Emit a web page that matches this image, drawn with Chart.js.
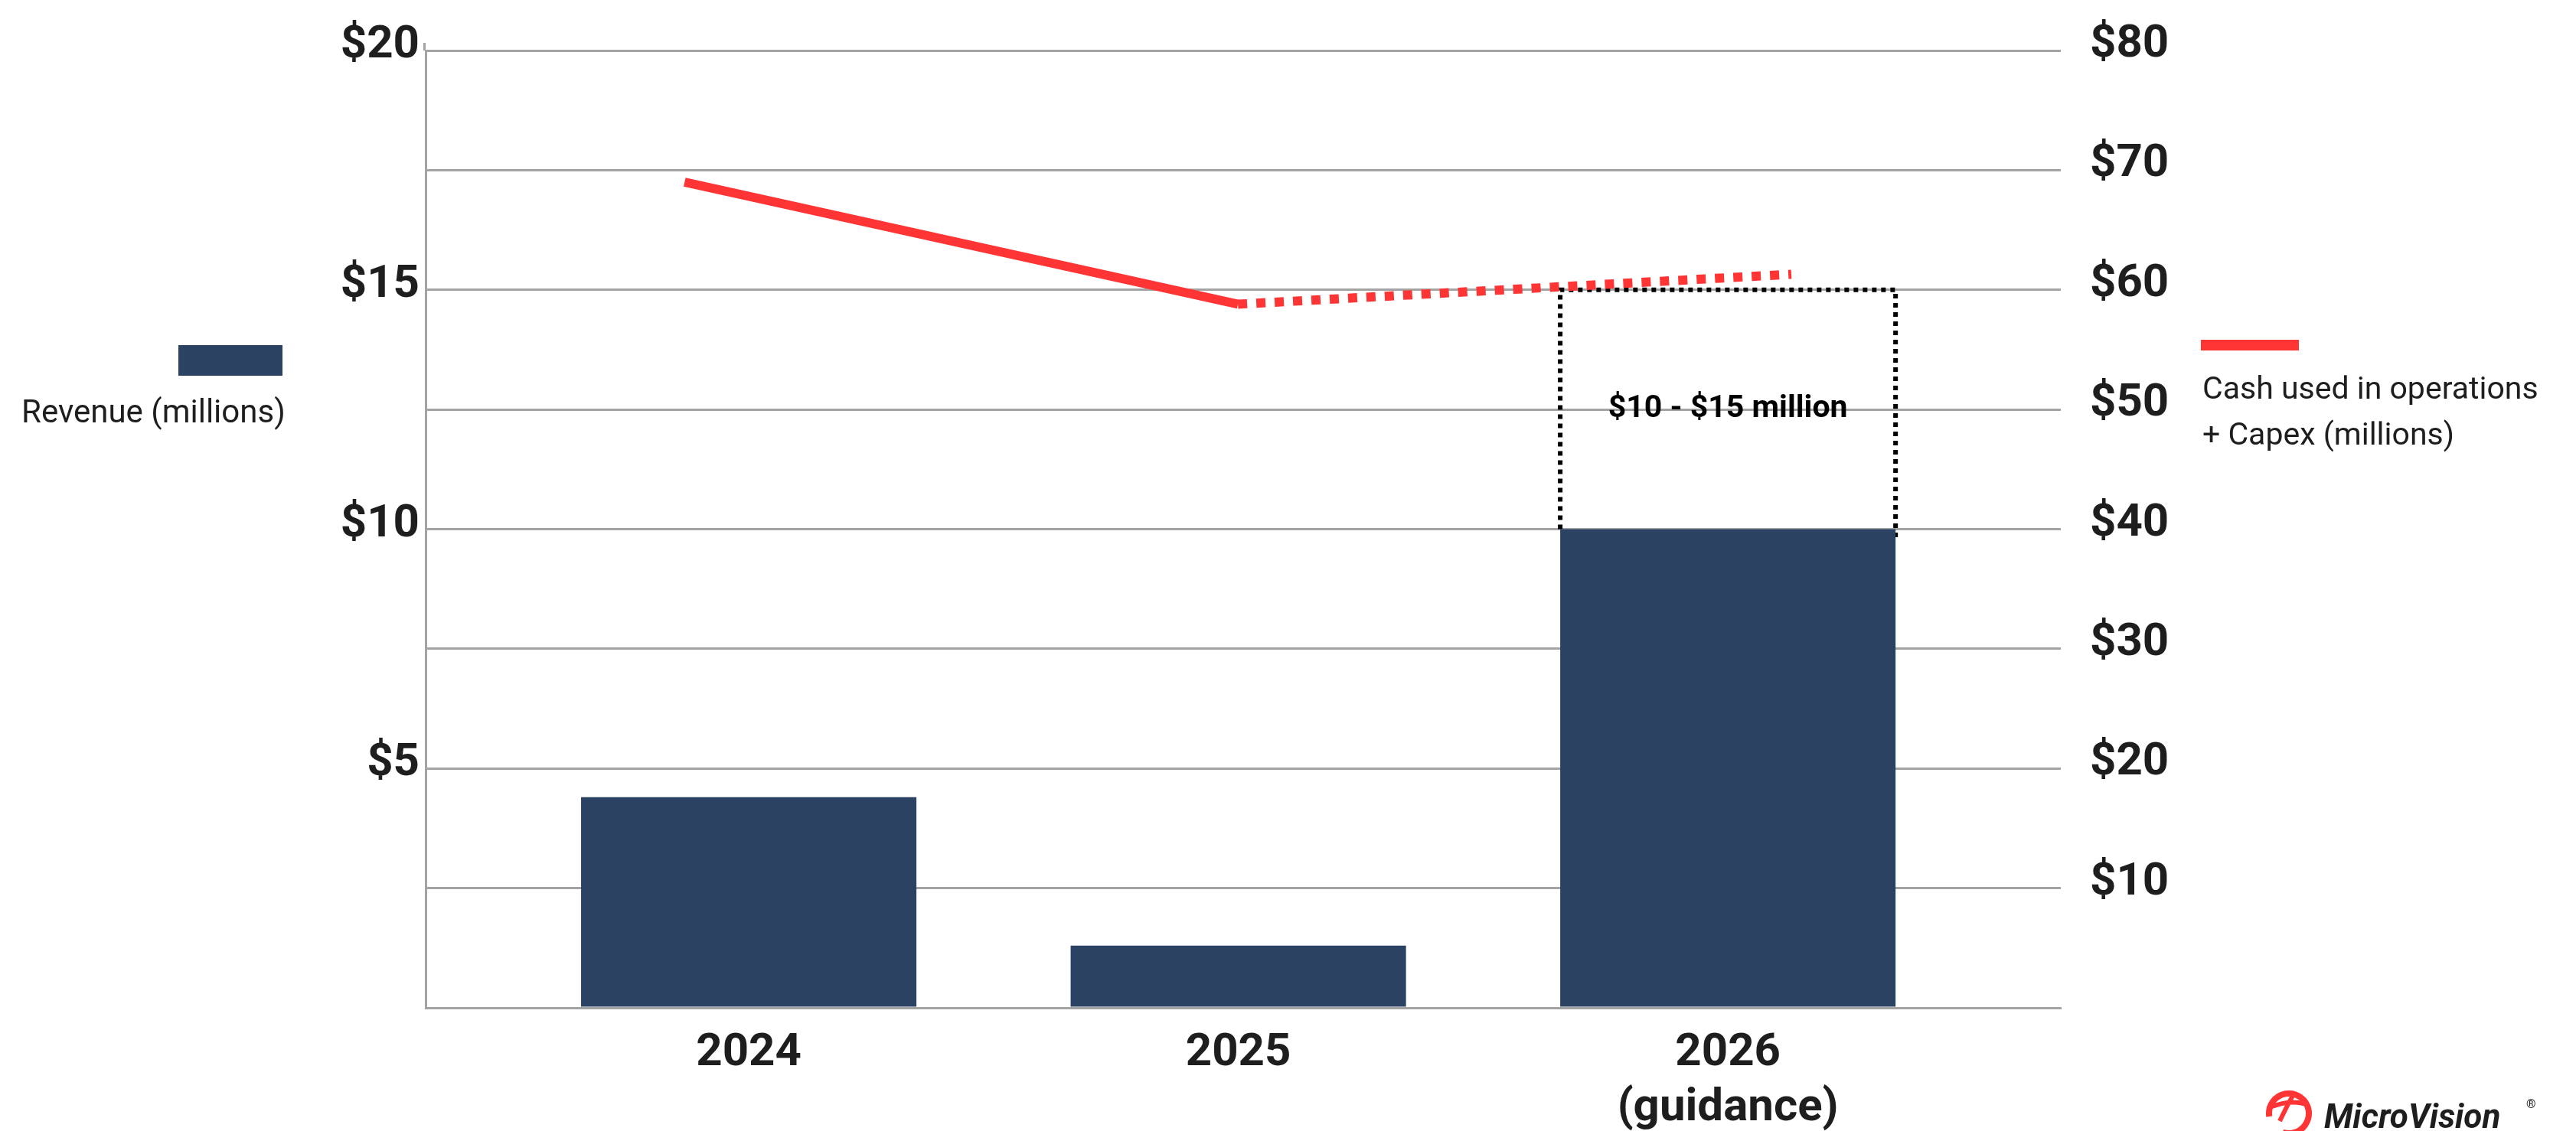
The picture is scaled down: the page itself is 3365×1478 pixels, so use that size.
<!DOCTYPE html>
<html>
<head>
<meta charset="utf-8">
<script src="https://cdn.jsdelivr.net/npm/chart.js@4.4.1/dist/chart.umd.min.js"></script>
<style>
  html, body { margin: 0; padding: 0; background: #fff; }
  #wrap { width: 3365px; height: 1478px; }
</style>
</head>
<body>
<div id="wrap"><canvas id="mvChart" width="3365" height="1478"></canvas></div>
<script>
// values
var years = ['2024', '2025', '2026'];
var yearLabels = [['2024'], ['2025'], ['2026', '(guidance)']];
var revenue = [4.4, 1.3, 10];              // revenue, $ millions (left axis)
var guidanceRange = [null, null, [10, 15]]; // 2026 guidance band
var guidanceText = [null, null, '$10 - $15 million'];
var cashUsed = [69, 58.8, 61.3];           // cash used in ops + capex, $ millions (right axis)

var FONT = 'Roboto, "Liberation Sans", sans-serif';
var NAVY = '#2c4262';
var RED = '#ff3535';
var GRID = '#a3a3a3';
var INK = '#1e1e1e';

var revenueData = revenue.map(function(v, i) { return { x: i, y: v }; });
var cashData = cashUsed.map(function(v, i) { return { x: i, y: v }; });
var guidanceData = [];
guidanceRange.forEach(function(r, i) { if (r) guidanceData.push({ x: i, y: r, txt: guidanceText[i] }); });

var decorations = {
    id: 'decorations',
    beforeDatasetsDraw: function(chart) {
        // dotted outline for the guidance range, bars get painted over it
        var ctx = chart.ctx;
        chart.getDatasetMeta(2).data.forEach(function(bar) {
            var p = bar.getProps(['x', 'y', 'base', 'width'], true);
            var l = p.x - p.width / 2, r = p.x + p.width / 2;
            ctx.save();
            ctx.strokeStyle = '#000';
            ctx.lineWidth = 6;
            ctx.setLineDash([6, 6]);
            ctx.beginPath();
            ctx.moveTo(l, p.base);
            ctx.lineTo(l, p.y);
            ctx.lineTo(r, p.y);
            ctx.lineTo(r, p.base + 12);
            ctx.stroke();
            ctx.restore();
        });
    },
    afterDatasetsDraw: function(chart) {
        var ctx = chart.ctx;
        chart.getDatasetMeta(2).data.forEach(function(bar, i) {
            var p = bar.getProps(['x', 'y', 'base'], true);
            ctx.save();
            ctx.fillStyle = '#000';
            ctx.font = 'bold 41px ' + FONT;
            ctx.textAlign = 'center';
            ctx.textBaseline = 'middle';
            ctx.fillText(guidanceData[i].txt, p.x, (p.y + p.base) / 2);
            ctx.restore();
        });
        // left axis line runs a little above the top gridline
        var a = chart.chartArea;
        ctx.save();
        ctx.strokeStyle = GRID;
        ctx.lineWidth = 3;
        ctx.beginPath();
        ctx.moveTo(a.left - 1.5, a.top);
        ctx.lineTo(a.left - 1.5, a.top - 10);
        ctx.stroke();
        ctx.restore();
    },
    afterDraw: function(chart) {
        var ctx = chart.ctx;
        ctx.save();
        // left legend: revenue
        ctx.fillStyle = chart.data.datasets[1].backgroundColor;
        ctx.fillRect(233, 451, 136, 40);
        ctx.fillStyle = INK;
        ctx.font = '42px ' + FONT;
        ctx.textBaseline = 'middle';
        ctx.fillText(chart.data.datasets[1].label, 28, 541);
        // right legend: cash used
        ctx.fillStyle = chart.data.datasets[0].borderColor;
        ctx.fillRect(2875, 444, 128, 14);
        ctx.fillStyle = INK;
        ctx.font = '41px ' + FONT;
        var lines = chart.data.datasets[0].label.split('\n');
        lines.forEach(function(t, k) { ctx.fillText(t, 2877, 511 + k * 60); });
        // logo, bottom right
        ctx.strokeStyle = RED;
        ctx.lineWidth = 8;
        ctx.beginPath();
        ctx.arc(2990, 1455, 26, Math.PI * 0.95, Math.PI * 2.6);
        ctx.stroke();
        ctx.lineWidth = 6;
        ctx.beginPath();
        ctx.moveTo(2968, 1446); ctx.quadraticCurveTo(2995, 1436, 3014, 1444);
        ctx.moveTo(2978, 1465); ctx.quadraticCurveTo(2990, 1440, 2995, 1432);
        ctx.stroke();
        ctx.fillStyle = INK;
        ctx.font = 'italic bold 44px ' + FONT;
        ctx.textBaseline = 'alphabetic';
        ctx.fillText('MicroVision', 3036, 1474);
        ctx.font = '16px ' + FONT;
        ctx.fillText('\u00ae', 3300, 1448);
        ctx.restore();
    }
};

var ctx = document.getElementById('mvChart').getContext('2d');
var mvChart = new Chart(ctx, {
    type: 'bar',
    data: {
        labels: years,
        datasets: [{
            type: 'line',
            label: 'Cash used in operations\n+ Capex (millions)',
            data: cashData,
            xAxisID: 'xl',
            yAxisID: 'y1',
            borderColor: RED,
            borderWidth: 12,
            borderCapStyle: 'butt',
            pointRadius: 0,
            tension: 0,
            order: 0,
            segment: {
                borderDash: function(c) { return c.p0DataIndex >= 1 ? [12, 12] : undefined; }
            }
        }, {
            label: 'Revenue (millions)',
            data: revenueData,
            backgroundColor: NAVY,
            xAxisID: 'x',
            yAxisID: 'y',
            grouped: false,
            categoryPercentage: 1,
            barPercentage: 0.685,
            order: 1
        }, {
            label: 'Guidance',
            data: guidanceData,
            backgroundColor: 'rgba(0,0,0,0)',
            xAxisID: 'x',
            yAxisID: 'y',
            grouped: false,
            categoryPercentage: 1,
            barPercentage: 0.685,
            order: 2
        }]
    },
    options: {
        responsive: false,
        animation: false,
        devicePixelRatio: 1,
        layout: { padding: { top: 56, left: 0, right: 0, bottom: 0 } },
        plugins: {
            legend: { display: false },
            tooltip: { enabled: false }
        },
        scales: {
            x: {
                type: 'linear',
                min: -0.66,
                max: 2.68,
                offset: false,
                grid: { display: false },
                border: { display: true, color: GRID, width: 3 },
                afterBuildTicks: function(s) {
                    s.ticks = years.map(function(_, i) { return { value: i }; });
                },
                ticks: {
                    autoSkip: false,
                    maxRotation: 0,
                    padding: 16,
                    color: INK,
                    font: { family: FONT, size: 60, weight: 'bold', lineHeight: 1.2 },
                    callback: function(v) { return yearLabels[v]; }
                },
                afterFit: function(s) { s.height = 161; }
            },
            xl: {
                type: 'linear',
                min: -0.468,
                max: 2.487,
                offset: false,
                display: false
            },
            y: {
                position: 'left',
                min: 0,
                max: 20,
                grid: { color: GRID, lineWidth: 3, drawTicks: false },
                border: { display: true, color: GRID, width: 3 },
                ticks: {
                    stepSize: 2.5,
                    padding: 8,
                    labelOffset: -6,
                    color: INK,
                    font: { family: FONT, size: 60, weight: 'bold' },
                    callback: function(v) { return (v > 0 && v % 5 === 0) ? '$' + v : ''; }
                },
                afterFit: function(s) { s.width = 556; }
            },
            y1: {
                position: 'right',
                min: 0,
                max: 80,
                grid: { display: false },
                border: { display: false },
                ticks: {
                    stepSize: 10,
                    padding: 30,
                    labelOffset: -7,
                    color: INK,
                    font: { family: FONT, size: 60, weight: 'bold' },
                    callback: function(v) { return v > 0 ? '$' + v : ''; }
                },
                afterFit: function(s) { s.width = 673; }
            }
        }
    },
    plugins: [decorations]
});
</script>
</body>
</html>
